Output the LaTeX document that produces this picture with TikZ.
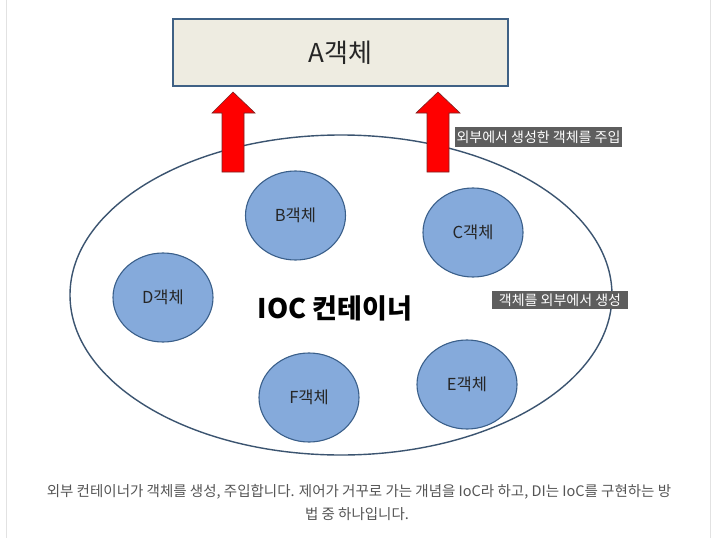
\documentclass[tikz,border=0pt]{standalone}
\usepackage{fontspec}
\setmainfont{Noto Sans CJK KR}
\usetikzlibrary{shapes.geometric}
\definecolor{boxfill}{HTML}{EEECE1}
\definecolor{boxline}{HTML}{3F6185}
\definecolor{ringline}{HTML}{3B5470}
\definecolor{cfill}{HTML}{85AADB}
\definecolor{cline}{HTML}{3A5F8A}
\definecolor{tagfill}{HTML}{5E5E5E}
\definecolor{captext}{HTML}{555555}
\definecolor{frameline}{HTML}{E2E2E2}
\definecolor{arrline}{HTML}{7A2222}
\tikzset{
  objbox/.style={draw=boxline, line width=1.2pt, fill=boxfill, minimum width=335pt, minimum height=67pt, inner sep=0pt, font=\fontsize{26}{30}\selectfont, text=black!85},
  objcirc/.style={ellipse, draw=cline, line width=1.1pt, fill=cfill, minimum width=100pt, minimum height=89pt, inner sep=0pt, font=\fontsize{16.5}{20}\selectfont, text=black!85},
  ring/.style={ellipse, draw=ringline, line width=1.4pt, minimum width=542pt, minimum height=320pt, inner sep=0pt},
  tag/.style={fill=tagfill, text=white, inner sep=0pt, font=\fontsize{14}{16}\selectfont},
  redarrow/.style={fill=red, draw=arrline, line width=0.6pt},
  caption/.style={text=captext, font=\fontsize{14.5}{17}\selectfont, inner sep=0pt}
}
\begin{document}
\begin{tikzpicture}[x=1pt,y=-1pt]
\useasboundingbox (0,0) rectangle (712,538);
\fill[white] (0,0) rectangle (712,538);
\draw[frameline, line width=1pt] (6.5,0) -- (6.5,538);
\draw[frameline, line width=1pt] (710,0) -- (710,538);

\node[objbox] (A) at (340.5,52.5) {A객체};

\node[ring] (ioc) at (341,295) {};
\node[font=\fontsize{27}{31}\selectfont\bfseries] (ioclabel) at (335,308) {IOC 컨테이너};

\node[objcirc] (B) at (295.5,215.5) {B객체};
\node[objcirc] (C) at (473,232.5) {C객체};
\node[objcirc] (D) at (163,297.5) {D객체};
\node[objcirc] (F) at (309,397.5) {F객체};
\node[objcirc] (E) at (467,384.5) {E객체};

% block arrows
\draw[redarrow] (222,172) -- (222,113) -- (212,113) -- (233,92) -- (255,113) -- (244,113) -- (244,172) -- cycle;
\draw[redarrow] (427,172) -- (427,113) -- (416,113) -- (438,92) -- (460,113) -- (449,113) -- (449,172) -- cycle;

\node[tag, minimum width=167pt, minimum height=20pt] (tag1) at (538.5,137) {외부에서 생성한 객체를 주입};
\node[tag, minimum width=136pt, minimum height=18pt] (tag2) at (560,300) {객체를 외부에서 생성};

\node[caption] (cap1) at (359,492) {외부 컨테이너가 객체를 생성, 주입합니다. 제어가 거꾸로 가는 개념을 IoC라 하고, DI는 IoC를 구현하는 방};
\node[caption] (cap2) at (357,514) {법 중 하나입니다.};
\end{tikzpicture}
\end{document}
